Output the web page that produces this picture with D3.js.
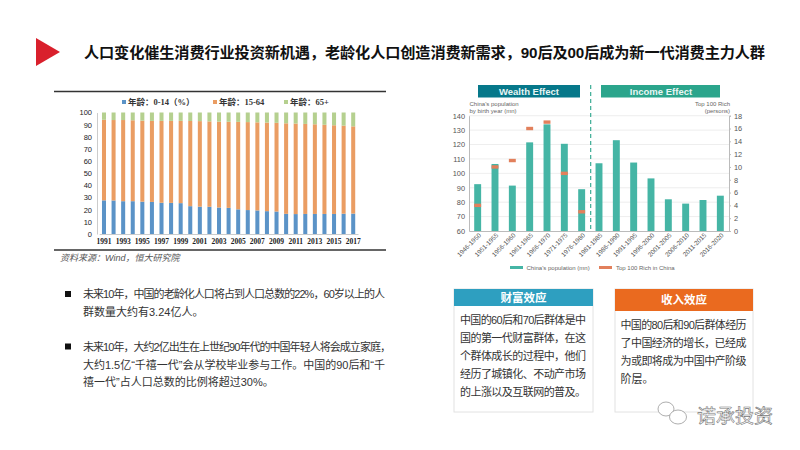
<!DOCTYPE html>
<html><head><meta charset="utf-8">
<script src="https://cdn.jsdelivr.net/npm/d3@7"></script>
<style>
html,body{margin:0;padding:0;background:#fff;overflow:hidden}
svg{display:block}
text{font-family:"Liberation Sans","Noto Sans CJK SC",sans-serif}
</style></head><body><svg id="c" width="800" height="450"></svg>
<script>
const pageTitle="人口变化催生消费行业投资新机遇，老龄化人口创造消费新需求，90后及00后成为新一代消费主力人群";
const years=d3.range(1991,2018).map(String);
const ageYoung=[27.7,27.6,27,27,26.6,26.4,25.7,25.6,25.4,22.9,22.5,22.4,21.8,21.5,20.3,19.7,19.4,18.8,18.5,16.6,16.4,16.5,16.5,16.5,16.5,16.7,16.8];
const ageWork=[66.3,66.2,66.8,66.6,66.7,66.7,67.4,67.5,67.7,70.1,70.4,70.3,70.7,70.9,72,72.4,72.5,72.9,73,74.5,74.5,74.1,73.8,73.4,73,72.5,71.8];
const ageOld=[6,6.2,6.2,6.4,6.7,6.9,6.9,6.9,6.9,7,7.1,7.3,7.5,7.6,7.7,7.9,8.1,8.3,8.5,8.9,9.1,9.4,9.7,10.1,10.5,10.8,11.4];
const ageLegend=["年龄：0-14（%）","年龄：15-64","年龄：65+"];
const ageColors=["#5b93c7","#ea9d63","#b5d08f"];
const sourceNote="资料来源：Wind，恒大研究院";

const birthYears=["1946-1950","1951-1955","1956-1960","1961-1965","1966-1970","1971-1975","1976-1980","1981-1985","1986-1990","1991-1995","1996-2000","2001-2005","2006-2010","2011-2015","2016-2020"];
const population=[92.5,106.5,91.5,121.5,134,120.5,89,107,123,107.5,96.5,82,79,81.5,84.5];
const richCount=[4,10,11,16,17,9,3,null,null,null,null,null,null,null,null];
const para1=["未来10年，中国的老龄化人口将占到人口总数的22%，60岁以上的人","群数量大约有3.24亿人。"];
const para2=["未来10年，大约2亿出生在上世纪90年代的中国年轻人将会成立家庭，","大约1.5亿“千禧一代”会从学校毕业参与工作。中国的90后和“千","禧一代”占人口总数的比例将超过30%。"];
const box1=["中国的60后和70后群体是中","国的第一代财富群体，在这","个群体成长的过程中，他们","经历了城镇化、不动产市场","的上涨以及互联网的普及。"];
const box2=["中国的80后和90后群体经历","了中国经济的增长，已经成","为或即将成为中国中产阶级","阶层。"];

const svg=d3.select("#c");
svg.append("rect").attr("width",800).attr("height",450).attr("fill","#fff");
svg.append("path").attr("d","M36 38L60 52L36 66Z").attr("fill","#d9202c");
svg.append("text").attr("x",84).attr("y",58).attr("font-size",15.2).attr("font-weight",700).attr("fill","#111")
  .attr("textLength",681).attr("lengthAdjust","spacing").text(pageTitle);

// left chart
const L=svg.append("g");
[91.5,250].forEach(y=>L.append("line").attr("x1",54).attr("x2",386).attr("y1",y).attr("y2",y).attr("stroke","#333").attr("stroke-width",1.6));
const lx=d3.scaleBand().domain(years).range([99.2,358]).paddingInner(0.58).paddingOuter(0.29);
const ly=d3.scaleLinear().domain([0,100]).range([234,112.5]);
const rows=years.map((y,i)=>({year:y,a:ageYoung[i],b:ageWork[i],c:ageOld[i]}));
const stacked=d3.stack().keys(["a","b","c"])(rows);
stacked.forEach((s,k)=>L.append("g").attr("fill",ageColors[k]).selectAll("rect").data(s).join("rect")
  .attr("x",d=>lx(d.data.year)).attr("width",lx.bandwidth())
  .attr("y",d=>ly(d[1])).attr("height",d=>ly(d[0])-ly(d[1])));
const lya=L.append("g").attr("transform","translate(97,0)").call(d3.axisLeft(ly).tickValues(d3.range(0,101,10)).tickSize(0).tickPadding(5));
lya.select(".domain").attr("stroke","#ccc");
lya.selectAll("text").attr("font-size",7.5).attr("fill","#222").style("font-family","Liberation Sans");
const lxa=L.append("g").attr("transform","translate(0,234)").call(d3.axisBottom(lx).tickValues(years.filter((d,i)=>i%2==0)).tickSize(0).tickPadding(5));
lxa.select(".domain").attr("stroke","#ccc");
lxa.selectAll("text").attr("font-size",7.5).attr("font-weight",700).attr("fill","#222").style("font-family","Liberation Serif");
[[122,ageLegend[0]],[213,ageLegend[1]],[284,ageLegend[2]]].forEach(([x,t],i)=>{
  L.append("rect").attr("x",x).attr("y",100).attr("width",4).attr("height",4).attr("fill",ageColors[i]);
  L.append("text").attr("x",x+6).attr("y",105).attr("font-size",8.5).attr("font-weight",700).attr("fill","#333")
   .style("font-family","'Liberation Serif','Noto Sans CJK SC'").text(t);
});
L.append("text").attr("x",60).attr("y",260.5).attr("font-size",9).attr("font-style","italic").attr("fill","#555").text(sourceNote);

// right chart
const R=svg.append("g");
const rx=d3.scaleBand().domain(birthYears).range([469,729]).paddingInner(0.6).paddingOuter(0.3);
const ry=d3.scaleLinear().domain([60,140]).range([231,115.7]);
const ry2=d3.scaleLinear().domain([0,18]).range([231,115.7]);
R.append("g").selectAll("line").data(d3.range(70,141,10)).join("line").attr("x1",469).attr("x2",729)
  .attr("y1",d=>ry(d)).attr("y2",d=>ry(d)).attr("stroke","#e6e6e6").attr("stroke-width",.7);
R.append("g").selectAll("rect").data(birthYears).join("rect").attr("fill","#45b5a5")
  .attr("x",d=>rx(d)).attr("width",rx.bandwidth()).attr("y",(d,i)=>ry(population[i])).attr("height",(d,i)=>ry(60)-ry(population[i]));
R.append("g").selectAll("rect").data(birthYears.filter((d,i)=>richCount[i]!=null)).join("rect").attr("fill","#e2805c")
  .attr("x",d=>rx(d)).attr("width",rx.bandwidth()).attr("height",3.4).attr("y",(d,i)=>ry2(richCount[i])-1.7);
const sty=(g)=>{g.select(".domain").attr("stroke","#bbb");g.selectAll("text").attr("font-size",7.4).attr("fill","#555");g.selectAll("line").attr("stroke","#bbb");};
R.append("g").attr("transform","translate(469,0)").call(d3.axisLeft(ry).tickValues(d3.range(60,141,10)).tickSize(0).tickPadding(4)).call(sty);
R.append("g").attr("transform","translate(729,0)").call(d3.axisRight(ry2).tickValues(d3.range(0,19,2)).tickSize(2).tickPadding(3)).call(sty);
const rxa=R.append("g").attr("transform","translate(0,231)").call(d3.axisBottom(rx).tickSize(0).tickPadding(4)).call(sty);
rxa.selectAll("text").attr("font-size",6.4).attr("text-anchor","end").attr("dx","-.1em").attr("dy","0.3em").attr("transform","rotate(-45)");
R.append("rect").attr("x",478).attr("y",85).attr("width",102).attr("height",12.5).attr("fill","#06788a");
R.append("rect").attr("x",601).attr("y",85).attr("width",119).attr("height",12.5).attr("fill","#2ba58c");
[[529,"Wealth Effect"],[661,"Income Effect"]].forEach(([x,t])=>R.append("text").attr("x",x).attr("y",95).attr("text-anchor","middle").attr("font-size",9.5).attr("font-weight",700).attr("fill","#e8f6f4").text(t));
R.append("line").attr("x1",590.7).attr("x2",590.7).attr("y1",85).attr("y2",232).attr("stroke","#2ba58c").attr("stroke-width",1.1).attr("stroke-dasharray","4 3");
[["China's population",469.5,106,"start"],["by birth year (mn)",469.5,113,"start"],["Top 100 Rich",730,106,"end"],["(persons)",730,113,"end"]].forEach(([t,x,y,a])=>
  R.append("text").attr("x",x).attr("y",y).attr("text-anchor",a).attr("font-size",6).attr("fill","#666").text(t));
R.append("rect").attr("x",510).attr("y",266).attr("width",13).attr("height",3).attr("fill","#45b5a5");
R.append("text").attr("x",526.5).attr("y",270).attr("font-size",6).attr("fill","#666").text("China's population (mn)");
R.append("rect").attr("x",599).attr("y",266).attr("width",13).attr("height",3).attr("fill","#e2805c");
R.append("text").attr("x",616).attr("y",270).attr("font-size",6).attr("fill","#666").text("Top 100 Rich in China");

// bullets
const drawLines=(lines,x,y0,lh,size,fill,widths)=>lines.forEach((t,i)=>{
  const e=svg.append("text").attr("x",x).attr("y",y0+i*lh).attr("font-size",size).attr("fill",fill).text(t);
  if(widths&&widths[i]) e.attr("textLength",widths[i]).attr("lengthAdjust","spacing");
});
[[65,291],[65,343.5]].forEach(([x,y])=>svg.append("rect").attr("x",x).attr("y",y).attr("width",6).attr("height",6).attr("fill","#111"));
drawLines(para1,83,298,17.5,11,"#333",[302]);
drawLines(para2,83,351,17.6,11,"#333",[308,302]);

// boxes
const box=(x,w,hh,col,title,lines,tx,ty)=>{
  svg.append("rect").attr("x",x).attr("y",289).attr("width",w).attr("height",123).attr("fill","#fff").attr("stroke","#e2e2e2");
  svg.append("rect").attr("x",x).attr("y",289).attr("width",w).attr("height",hh).attr("fill",col);
  svg.append("text").attr("x",x+w/2).attr("y",289+hh/2+4).attr("text-anchor","middle").attr("font-size",11.5).attr("font-weight",700).attr("fill","#fff").text(title);
  drawLines(lines,tx,ty,18,11,"#333",lines.map(l=>l.length>6?126:0));
};
box(454,139,17,"#2e9fc0","财富效应",box1,460,323.5);
box(615,138,22,"#ea6a1f","收入效应",box2,620.5,328.5);

// watermark
const W=svg.append("g").attr("fill","#fff").attr("stroke","#999").attr("stroke-width",.8);
W.append("ellipse").attr("cx",666).attr("cy",409).attr("rx",8).attr("ry",7);
W.append("ellipse").attr("cx",678).attr("cy",417).attr("rx",8.5).attr("ry",7);
svg.append("text").attr("x",697).attr("y",423).attr("font-size",19).attr("fill","#fff").attr("stroke","#777").attr("stroke-width",.6).text("诺承投资");
</script></body></html>
